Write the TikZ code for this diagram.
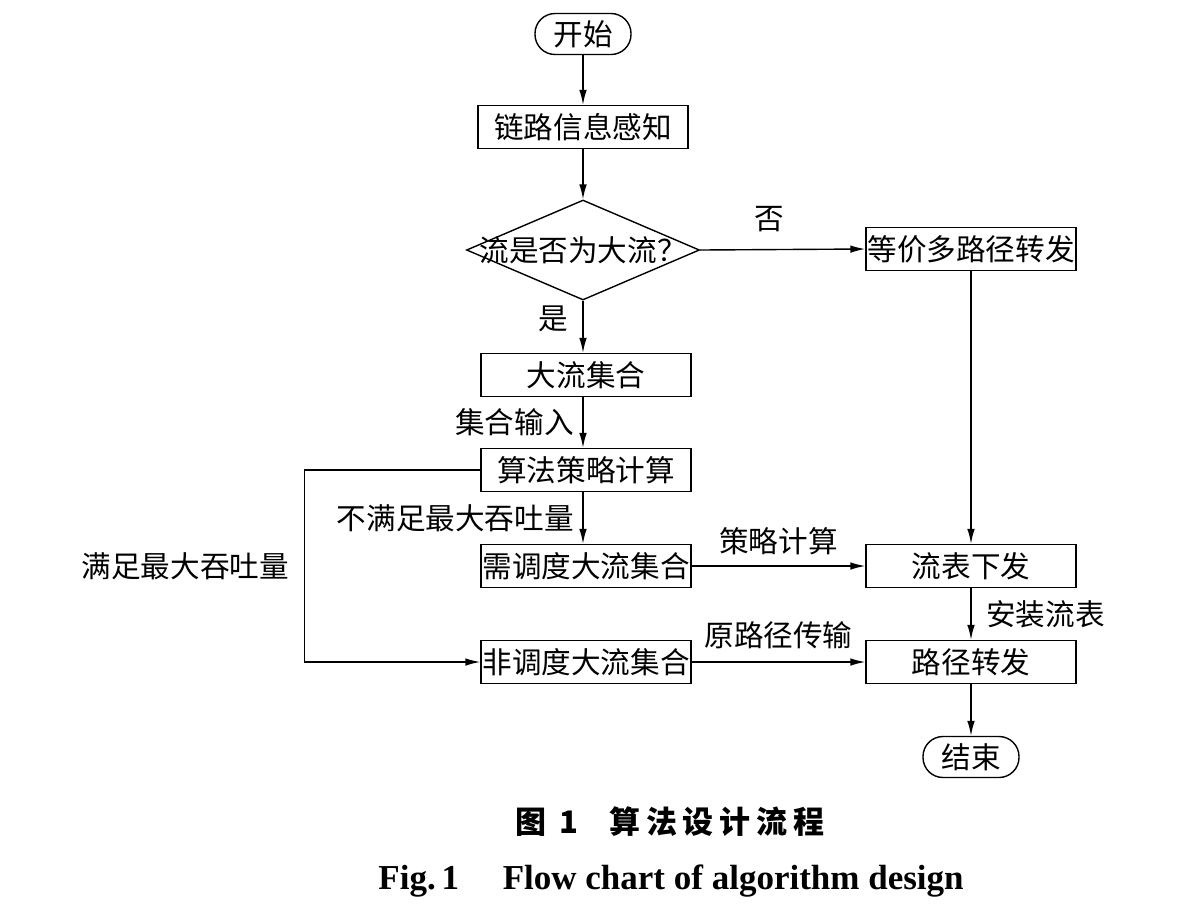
\documentclass[tikz,border=0pt]{standalone}
\usepackage{fontspec}
\usepackage{tikz}
\usetikzlibrary{shapes.geometric,arrows.meta}
\setmainfont{Liberation Serif}
\newfontfamily\cjk{Noto Sans CJK SC}
\newfontfamily\cjkcap{Noto Sans CJK SC}[LetterSpace=19]

\tikzset{
  every node/.style={font=\cjk\fontsize{14.8}{17}\selectfont},
  proc/.style={rectangle, draw, line width=0.7pt, minimum width=105pt, minimum height=21.5pt, inner sep=0pt},
  term/.style={rectangle, draw, line width=0.7pt, rounded corners=10pt, minimum width=48pt, minimum height=20.5pt, inner sep=0pt},
  dec/.style={diamond, draw, line width=0.7pt, minimum width=116.5pt, minimum height=50pt, inner sep=0pt},
  link/.style={->, line width=0.7pt},
}

\begin{document}
\begin{tikzpicture}[x=0.5pt, y=-0.5pt, >={Latex[length=7.5pt,width=3.8pt]}]
            \useasboundingbox (0,0) rectangle (1189,912);
            % main column
            \node at (583,34) [term] (start) {开始};
            \node at (583,127) [proc] (sense) {链路信息感知};
            \node at (583,250) [dec] (judge) {\makebox[0pt]{流是否为大流？}};
            \node at (586,375) [proc] (big) {大流集合};
            \node at (586,470) [proc] (calc) {算法策略计算};
            \node at (586,566) [proc] (sched) {需调度大流集合};
            \node at (586,662) [proc] (nosched) {非调度大流集合};
            % right column
            \node at (971,249) [proc] (ecmp) {等价多路径转发};
            \node at (971,566) [proc] (flowtab) {流表下发};
            \node at (971,662) [proc] (fwd) {路径转发};
            \node at (971,757) [term] (stop) {结束};
            % caption
            \node at (670,822) [font=\cjkcap\bfseries\fontsize{15.5}{18}\selectfont] (capzh) {图 1\quad 算法设计流程};
            \node at (671,881) [font=\rmfamily\bfseries\fontsize{17.5}{20}\selectfont] (capen) {Fig.\,1\quad\ Flow chart of algorithm design};

            \draw[link] (start.south) -- (sense.north);
            \draw[link] (sense.south) -- (judge.north);
            \draw[link] (judge.east) -- node[pos=0.42, above=5pt] (no) {否} (ecmp.west);
            \draw[link] (judge.south) -- node[pos=0.35, left=4pt] (yes) {是} (judge.south |- big.north);
            \draw[link] (big.south -| judge.south) -- node[left=1pt] (setin) {集合输入} (calc.north -| judge.south);
            \draw[link] (calc.south -| judge.south) -- node[left=1pt] (notmax) {不满足最大吞吐量} (sched.north -| judge.south);
            \draw[link] (calc.west) -- ++(-176,0) |- node[pos=0.25, left=4pt] (ismax) {满足最大吞吐量} (nosched.west);
            \draw[link] (sched.east) -- node[above=2pt] (pcalc) {策略计算} (flowtab.west);
            \draw[link] (nosched.east) -- node[above=3pt] (orig) {原路径传输} (fwd.west);
            \draw[link] (ecmp.south) -- (flowtab.north);
            \draw[link] (flowtab.south) -- node[right=4pt] (inst) {安装流表} (fwd.north);
            \draw[link] (fwd.south) -- (stop.north);
        \end{tikzpicture}
\end{document}
